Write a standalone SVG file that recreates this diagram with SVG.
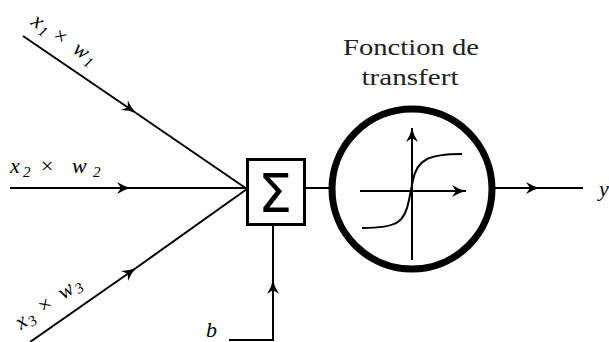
<svg xmlns="http://www.w3.org/2000/svg" width="609" height="342" viewBox="0 0 609 342">
<style>
.ln{fill:none;stroke:#000;stroke-width:2}
.m{font-family:'Liberation Serif','DejaVu Serif',serif;font-style:italic;font-size:22px;fill:#000}
.s{font-size:15px}
.op{font-style:normal}
.t{font-family:'Liberation Serif','DejaVu Serif',serif;font-size:23px;fill:#222}
</style>
<defs>
<marker id="ah" viewBox="-14 -7 16 14" markerWidth="16" markerHeight="14" refX="0" refY="0" orient="auto" markerUnits="userSpaceOnUse">
<path d="M0,0 Q-7,-1.5 -14,-6 L-10,0 L-14,6 Q-7,1.5 0,0 Z" fill="#000"/>
</marker>
</defs>
<rect width="609" height="342" fill="#fff"/>
<g id="connectors">
<path class="ln" d="M23,36 L136,113" marker-end="url(#ah)"/>
<path class="ln" d="M136,113 L247,189"/>
<path class="ln" d="M10,188 L131,188" marker-end="url(#ah)"/>
<path class="ln" d="M131,188 L247,188"/>
<path class="ln" d="M30,342 L136,268" marker-end="url(#ah)"/>
<path class="ln" d="M136,268 L247,189"/>
<path class="ln" d="M229,340 L273,340 L273,280" marker-end="url(#ah)"/>
<path class="ln" d="M273,280 L273,226"/>
<path class="ln" d="M305,188 L330,188"/>
<path class="ln" d="M495,188 L540,188" marker-end="url(#ah)"/>
<path class="ln" d="M540,188 L583,188"/>
</g>
<g id="label-x1" transform="translate(30,24) rotate(34)">
<text class="m"><tspan x="0" y="0">x</tspan><tspan class="s" x="11" y="4">1</tspan><tspan class="op" x="26" y="0">×</tspan><tspan x="50" y="0">w</tspan><tspan class="s" x="66" y="4">1</tspan></text>
</g>
<g id="label-x2">
<text class="m"><tspan x="10" y="173">x</tspan><tspan class="s" x="23" y="177">2</tspan><tspan class="op" x="41" y="173">×</tspan><tspan x="72" y="173">w</tspan><tspan class="s" x="93" y="177">2</tspan></text>
</g>
<g id="label-x3" transform="translate(21,330) rotate(-35)">
<text class="m"><tspan x="0" y="0">x</tspan><tspan class="s" x="11" y="4">3</tspan><tspan class="op" x="28" y="0">×</tspan><tspan x="52" y="0">w</tspan><tspan class="s" x="68" y="4">3</tspan></text>
</g>
<g id="label-b">
<text class="m" x="206" y="337">b</text>
</g>
<g id="sum">
<rect x="247.5" y="159.5" width="57" height="65" fill="#fff" stroke="#000" stroke-width="3"/>
<text x="275" y="212" text-anchor="middle" font-family="DejaVu Sans, sans-serif" font-size="54" fill="#000">Σ</text>
</g>
<g id="transfer">
<text class="t" x="411" y="55" text-anchor="middle" textLength="136" lengthAdjust="spacingAndGlyphs">Fonction de</text>
<text class="t" x="410" y="85" text-anchor="middle" textLength="97" lengthAdjust="spacingAndGlyphs">transfert</text>
<circle cx="412" cy="189" r="80" fill="#fff" stroke="#000" stroke-width="7"/>
<path class="ln" stroke-width="1.3" d="M360,191 L466,191" marker-end="url(#ah)"/>
<path class="ln" stroke-width="1.3" d="M412,260 L412,128" marker-end="url(#ah)"/>
<path class="ln" stroke-width="2.2" d="M362,228 C398,228 405,222 409,200 L413,180 C417,160 428,154 462,154"/>
</g>
<g id="label-y">
<text class="m" x="599" y="196">y</text>
</g>
</svg>
